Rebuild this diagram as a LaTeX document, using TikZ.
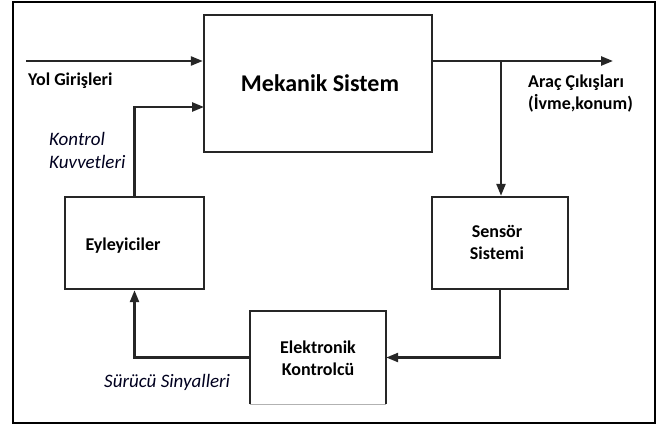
\documentclass[tikz,border=0pt]{standalone}
\usepackage{fontspec}
\setmainfont{Carlito}
\usetikzlibrary{arrows.meta,calc}
\begin{document}
\begin{tikzpicture}[x=1pt,y=-1pt,
  blk/.style={draw=black!85,line width=2.4pt,inner sep=0pt},
  conn/.style={line width=2.4pt,draw=black!85,-{Triangle[length=12pt,width=9pt]}},
  btxt/.style={font=\fontsize{18}{21}\selectfont\bfseries,align=center,inner sep=0pt},
  itxt/.style={font=\fontsize{19}{23}\selectfont\itshape,align=left,inner sep=0pt,text=black!88!blue}]
\useasboundingbox (0,0) rectangle (660,425);
\fill[white] (0,0) rectangle (660,425);
\draw[line width=2.6pt] (13,2) rectangle (655,423);
% blocks
\node[blk,minimum width=228pt,minimum height=137pt] (mek) at (318,83.5) {};
\node[font=\fontsize{24}{28}\selectfont\bfseries,inner sep=0pt] (mektxt) at (320,83) {Mekanik Sistem};
\node[blk,minimum width=139pt,minimum height=92pt] (act) at (134.5,243) {};
\node[btxt] (acttxt) at (123,246) {Eyleyiciler};
\node[blk,minimum width=136pt,minimum height=92pt] (sen) at (500,243) {};
\node[btxt] (sentxt) at (497,242) {Sensör\\[1pt]Sistemi};
\node[minimum width=136pt,minimum height=93pt,inner sep=0pt] (ctrl) at (318,357.5) {};
\draw[line width=2.4pt,black!85] (ctrl.south west) -- (ctrl.north west) -- (ctrl.north east) -- (ctrl.south east);
\draw[line width=1.4pt,black!30] (ctrl.south west) -- (ctrl.south east);
\node[btxt] (ctrltxt) at (318,358) {Elektronik\\[1pt]Kontrolcü};
% coordinates
\coordinate (yin) at (26,61);
\coordinate (yout) at (613,61);
\coordinate (br) at (501,61);
\coordinate (kin) at (204,107);
% connectors
\draw[conn] (yin) -- (yin -| mek.west);
\draw[conn] (mek.east |- yout) -- (yout);
\draw[conn] (br) -- (br |- sen.north);
\draw[conn] (sen.south) |- (ctrl.east);
\draw[conn] (ctrl.west) -| (act.south);
\draw[conn] (act.north) |- (kin);
% labels
\node[btxt,anchor=west] (yol) at (28,81) {Yol Girişleri};
\node[btxt,anchor=west,align=left] (arac) at (528,94) {Araç Çıkışları\\[1pt](İvme,konum)};
\node[itxt,anchor=west] (kk) at (49,150) {Kontrol\\[0pt]Kuvvetleri};
\node[itxt,anchor=west] (ss) at (104,382) {Sürücü Sinyalleri};
\end{tikzpicture}
\end{document}
